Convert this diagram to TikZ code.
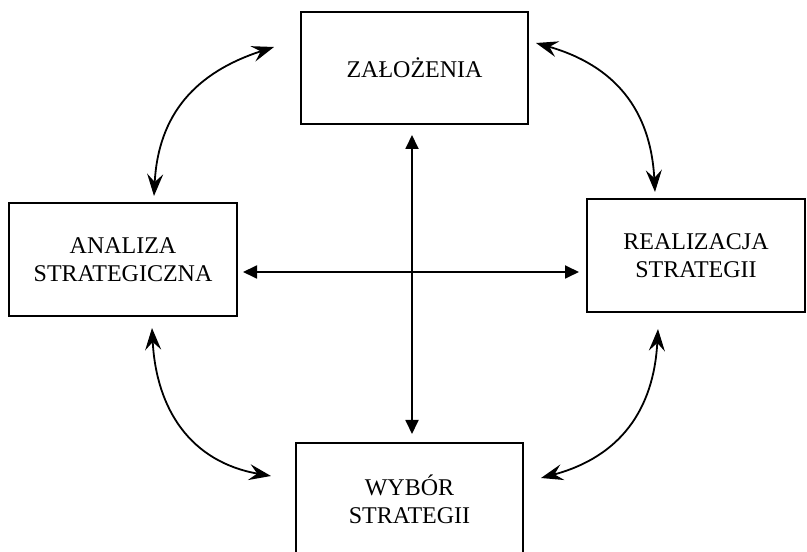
\documentclass[tikz,border=0pt]{standalone}
\usepackage{fontspec}
\setmainfont{Liberation Serif}
\usetikzlibrary{arrows.meta}
\begin{document}
\begin{tikzpicture}[x=1pt,y=1pt,
  box/.style={draw, line width=2pt, inner sep=0pt, align=center,
    font=\fontsize{24}{28}\selectfont},
  curvearrow/.style={line width=1.8pt, looseness=1.1, {Stealth[length=22pt,width=16pt,inset=8pt]}-{Stealth[length=22pt,width=16pt,inset=8pt]}},
  straightarrow/.style={line width=1.8pt, {Triangle[length=14pt,width=13pt]}-{Triangle[length=14pt,width=13pt]}}
]
\useasboundingbox (0,0) rectangle (807,552);
\node[box, minimum width=227pt, minimum height=112pt] (zal) at (414.5,484) {ZAŁOŻENIA};
\node[box, minimum width=228pt, minimum height=113pt] (ana) at (123,292.5) {ANALIZA\\STRATEGICZNA};
\node[box, minimum width=218pt, minimum height=113pt] (rea) at (696,296.5) {REALIZACJA\\STRATEGII};
\node[box, minimum width=227pt, minimum height=112pt] (wyb) at (409.5,53) {WYBÓR\\STRATEGII};

\draw[curvearrow] ([xshift=31pt,yshift=6pt]ana.north) to[out=87,in=198] ([xshift=-26pt,yshift=21pt]zal.west);
\draw[curvearrow] ([xshift=7pt,yshift=25pt]zal.east) to[out=-16,in=93] ([xshift=-41pt,yshift=6pt]rea.north);
\draw[curvearrow] ([xshift=29pt,yshift=-11pt]ana.south) to[out=-87,in=170] ([xshift=-24pt,yshift=23pt]wyb.west);
\draw[curvearrow] ([xshift=-38pt,yshift=-16pt]rea.south) to[out=-93,in=15] ([xshift=17pt,yshift=21pt]wyb.east);

\draw[straightarrow] ([xshift=-2.5pt,yshift=-10pt]zal.south) -- ([xshift=2.5pt,yshift=8pt]wyb.north);
\draw[straightarrow] ([xshift=5pt,yshift=-12.5pt]ana.east) -- ([xshift=-7pt,yshift=-16.5pt]rea.west);
\end{tikzpicture}
\end{document}
